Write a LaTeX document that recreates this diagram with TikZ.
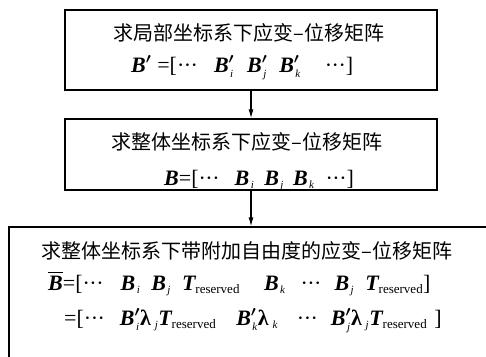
\documentclass[tikz,border=0pt]{standalone}
\usepackage{amsmath,amssymb}
\usepackage{fontspec}
\setmainfont{Liberation Serif}
\newfontfamily\cjk{Noto Sans CJK SC}
\usetikzlibrary{arrows.meta}
\newcommand{\bB}{\text{\bfseries\itshape B}}
\newcommand{\bT}{\text{\bfseries\itshape T}}
\newcommand{\bl}{\text{\bfseries λ}}
\newcommand{\sbs}[1]{\kern1.5pt\text{\fontsize{11}{11}\selectfont\itshape #1}}
\newcommand{\rsv}{\text{\fontsize{13}{13}\selectfont reserved}}
\newcommand{\pr}{^{\boldsymbol{\prime}}}
\newcommand{\eqs}{\text{=}}
\newcommand{\lbr}{\text{[}}
\newcommand{\rbr}{\text{]}}
\newcommand{\dds}{\text{·\kern-0.5pt·\kern-0.5pt·}}
\tikzset{
  box/.style={draw, line width=1.3pt, rectangle, inner sep=0pt},
  cn/.style={font=\cjk\fontsize{20}{22}\selectfont, inner sep=0pt},
  mt/.style={font=\fontsize{22}{24}\selectfont, inner sep=0pt, anchor=base west},
  arr/.style={line width=1.2pt, -{Latex[length=9pt,width=5pt]}}
}
\begin{document}
\begin{tikzpicture}[x=1pt,y=-1pt]
\useasboundingbox (0,0) rectangle (486,356);
\clip (0,0) rectangle (486,356);
\fill[white] (0,0) rectangle (486,356);
\node[box, minimum width=372pt, minimum height=80pt] (b1) at (251,50) {};
\node[box, minimum width=372pt, minimum height=71pt] (b2) at (251,154.5) {};
\node[box, minimum width=491pt, minimum height=143pt] (b3) at (254.5,298.5) {};
\draw[arr] (b1.south) -- (b2.north);
\draw[arr] (b2.south) -- (b2.south |- b3.north);
\node[cn] (t1) at (249,33) {求局部坐标系下应变–位移矩阵};
\node[mt] (m1) at (131,72) {$\bB\pr\hspace{6pt}\eqs\lbr\dds\hspace{16pt}\bB\pr_{\sbs{i}}\hspace{13pt}\bB\pr_{\sbs{j}}\hspace{12pt}\bB\pr_{\sbs{k}}\hspace{24pt}\dds\rbr$};
\node[cn] (t2) at (247,142) {求整体坐标系下应变–位移矩阵};
\node[mt] (m2) at (164,185) {$\bB\eqs\lbr\dds\hspace{15pt}\bB_{\sbs{i}}\hspace{10pt}\bB_{\sbs{j}}\hspace{9pt}\bB_{\sbs{k}}\hspace{11pt}\dds\rbr$};
\node[cn] (t3) at (247,251) {求整体坐标系下带附加自由度的应变–位移矩阵};
\node[mt] (m3) at (48,290) {$\overline{\bB}\eqs\lbr\dds\hspace{17pt}\bB_{\sbs i}\hspace{11pt}\bB_{\sbs j}\hspace{11pt}\bT_{\rsv}\hspace{24pt}\bB_{\sbs k}\hspace{15pt}\dds\hspace{13pt}\bB_{\sbs j}\hspace{11pt}\bT_{\rsv}\rbr$};
\node[mt] (m4) at (64,325) {$\eqs\lbr\dds\hspace{15pt}\bB\pr_{\sbs i}\bl_{\,\sbs j}\bT_{\rsv}\hspace{20pt}\bB\pr_{\sbs k}\bl_{\,\sbs k}\hspace{19pt}\dds\hspace{13pt}\bB\pr_{\sbs j}\bl_{\,\sbs j}\bT_{\rsv}\hspace{7pt}\rbr$};
\end{tikzpicture}
\end{document}
